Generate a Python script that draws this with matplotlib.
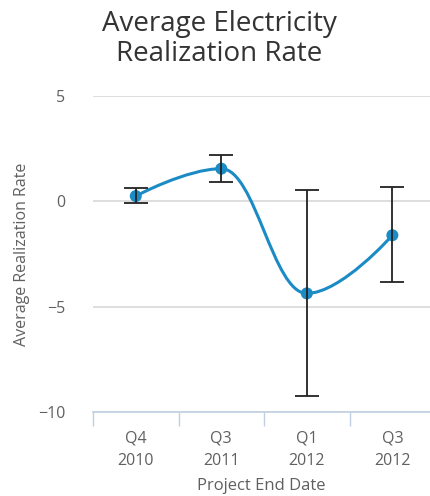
import numpy as np
import matplotlib
matplotlib.use("Agg")
import matplotlib.pyplot as plt
from matplotlib.path import Path
from matplotlib.patches import PathPatch

# Data
quarters = ['Q4\n2010', 'Q3\n2011', 'Q1\n2012', 'Q3\n2012']
avg_rate = [0.25, 1.55, -4.37, -1.61]
err_low = [-0.06, 0.91, -9.24, -3.85]
err_high = [0.63, 2.18, 0.55, 0.68]
y_ticks = [5, 0, -5, -10]

line_color = '#1b8bc6'
text_color = '#606060'

plt.rcParams['font.family'] = ['Open Sans', 'DejaVu Sans']

fig = plt.figure(figsize=(4.30, 4.96), dpi=100)
ax = fig.add_axes([93 / 430, 84 / 496, 337 / 430, 316 / 496])

x = np.arange(len(quarters))
y = np.array(avg_rate, dtype=float)


# Highcharts-style spline: cubic bezier control points from neighbouring points
def spline_path(xs, ys, smoothing=1.5):
    n = len(xs)
    left = [None] * n
    right = [None] * n
    for i in range(1, n - 1):
        px, py = xs[i], ys[i]
        lx, ly = xs[i - 1], ys[i - 1]
        nx, ny = xs[i + 1], ys[i + 1]
        d = smoothing + 1
        lcx = (smoothing * px + lx) / d
        lcy = (smoothing * py + ly) / d
        rcx = (smoothing * px + nx) / d
        rcy = (smoothing * py + ny) / d
        if rcx != lcx:
            corr = (rcy - lcy) * (rcx - px) / (rcx - lcx) + py - rcy
            lcy += corr
            rcy += corr
        if lcy > ly and lcy > py:
            lcy = max(ly, py)
            rcy = 2 * py - lcy
        elif lcy < ly and lcy < py:
            lcy = min(ly, py)
            rcy = 2 * py - lcy
        if rcy > ny and rcy > py:
            rcy = max(ny, py)
            lcy = 2 * py - rcy
        elif rcy < ny and rcy < py:
            rcy = min(ny, py)
            lcy = 2 * py - rcy
        left[i] = (lcx, lcy)
        right[i] = (rcx, rcy)
    verts = [(xs[0], ys[0])]
    codes = [Path.MOVETO]
    for i in range(1, n):
        c1 = right[i - 1] or (xs[i - 1], ys[i - 1])
        c2 = left[i] or (xs[i], ys[i])
        verts += [c1, c2, (xs[i], ys[i])]
        codes += [Path.CURVE4] * 3
    return Path(verts, codes)


ax.add_patch(PathPatch(spline_path(x, y), facecolor='none', edgecolor=line_color,
                       lw=2.2, zorder=3))
ax.scatter(x, y, s=75, color=line_color, zorder=4, edgecolors='none')

# error bars
yerr = [y - np.array(err_low), np.array(err_high) - y]
ax.errorbar(x, y, yerr=yerr, fmt='none', ecolor='#222222', elinewidth=1.3,
            capsize=8.5, capthick=1.3, zorder=5)

ax.set_xlim(-0.5, 3.44)
ax.set_ylim(-10, 5)
ax.set_yticks(y_ticks)
ax.set_yticklabels([str(t).replace('-', '\u2212') for t in y_ticks])
ax.yaxis.grid(True, color='#d8d8d8', lw=1.2)
ax.set_axisbelow(True)

# category ticks between columns, labels centred
ax.set_xticks(np.arange(-0.5, 3.5, 1.0))
ax.set_xticklabels([])
ax.set_xticks(x, minor=True)
ax.set_xticklabels(quarters, minor=True, color=text_color, fontsize=11.5,
                   linespacing=1.6)
ax.tick_params(axis='x', which='major', length=10, color='#c0d0e0', width=1)
ax.tick_params(axis='x', which='minor', length=0, pad=13)
ax.tick_params(axis='y', length=0, pad=20, labelcolor=text_color, labelsize=11.5)

for s in ['top', 'right', 'left']:
    ax.spines[s].set_visible(False)
ax.spines['bottom'].set_color('#c0d0e0')
ax.spines['bottom'].set_linewidth(1.2)

ax.set_xlabel('Project End Date', color=text_color, fontsize=12, labelpad=6)
ax.set_ylabel('Average Realization Rate', color=text_color, fontsize=11.5, labelpad=6)

fig.text(0.51, 0.98, 'Average Electricity\nRealization Rate', ha='center', va='top',
         fontsize=20, color='#333333', linespacing=1.1)

fig.savefig('out.png', dpi=100)
